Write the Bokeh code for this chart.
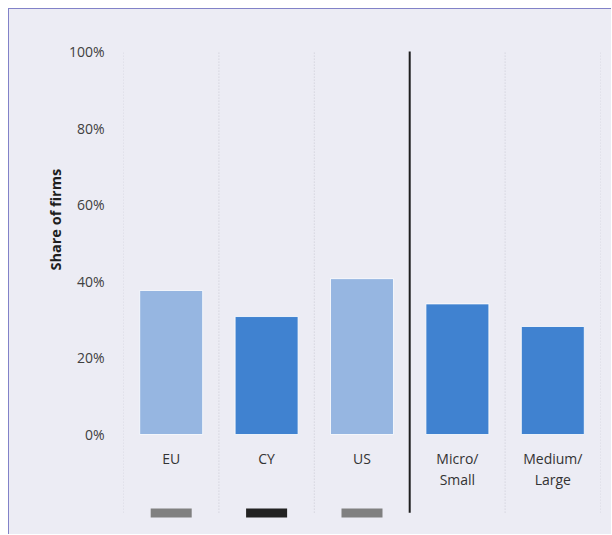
from bokeh.plotting import figure
from bokeh.models import Range1d, FixedTicker, ColumnDataSource, Title
from bokeh.core.properties import value
from bokeh.embed import file_html
from bokeh.resources import INLINE

# ---- data ----
categories = ["EU", "CY", "US", "Micro/\nSmall", "Medium/\nLarge"]
shares = [37.6, 30.8, 40.7, 34.1, 28.2]
bar_colors = ["#96B6E1", "#4082D0", "#96B6E1", "#4082D0", "#4082D0"]
marker_colors = ["#808080", "#222222", "#808080"]   # small indicators under EU, CY, US
y_ticks = [0, 20, 40, 60, 80, 100]
y_tick_labels = ["0%", "20%", "40%", "60%", "80%", "100%"]
y_title = "Share of firms"
n_regional = 3  # EU, CY, US are separated from firm-size groups

BG = "#ECECF4"
FONT = "Open Sans"

xs = [i + 0.5 for i in range(len(categories))]

p = figure(width=603, height=526,
           x_range=Range1d(0, len(categories)),
           y_range=Range1d(-26.11, 103.92),
           output_backend="svg", toolbar_location=None,
           x_axis_location=None,
           min_border_left=114, min_border_right=12,
           min_border_top=27, min_border_bottom=1,
           margin=(8, 0, 0, 8))
p.background_fill_color = None
p.border_fill_color = None
p.outline_line_color = None
p.grid.visible = False
p.styles = {"background-color": BG,
            "border-left": "1px solid #8282C8",
            "border-top": "1px solid #8282C8"}

ax = p.yaxis[0]
ax.ticker = FixedTicker(ticks=y_ticks)
ax.major_label_overrides = {t: l for t, l in zip(y_ticks, y_tick_labels)}
ax.axis_line_color = None
ax.major_tick_line_color = None
ax.minor_tick_line_color = None
ax.major_tick_out = 0
ax.major_label_standoff = 19
ax.major_label_text_font = FONT
ax.major_label_text_font_size = "14px"
ax.major_label_text_color = "#404040"

# y-axis title
p.add_layout(Title(text=y_title, align="left", offset=264, standoff=2,
                   text_font=FONT, text_font_size="14.5px",
                   text_font_style="bold", text_color="#1E1E1E"), "left")

# vertical separators
bounds = list(range(len(categories) + 1))
dotted = [b for b in bounds if b != n_regional]
p.segment(x0=dotted, x1=dotted, y0=-20.4, y1=100,
          line_color="#CACAD4", line_width=1, line_dash="1 2")
p.segment(x0=[n_regional], x1=[n_regional], y0=-20.4, y1=100,
          line_color="#1E1E1E", line_width=2)

# bars
src = ColumnDataSource(dict(x=xs, top=shares, color=bar_colors, label=categories))
p.vbar(x="x", top="top", bottom=0, width=0.66, source=src,
       fill_color="color", line_color="white", line_alpha=0.8, line_width=1)

# category labels
p.text(x="x", y=0, text="label", source=src,
       text_font=value(FONT), text_font_size="14px", text_color="#333333",
       text_align="center", text_baseline="top", y_offset=14,
       text_line_height=1.15)

# small indicator rectangles
p.rect(x=xs[:len(marker_colors)], y=-20.5, width=0.43, height=9,
       height_units="screen", fill_color=marker_colors, line_color=None)

open("out.html", "w").write(file_html(p, INLINE))
